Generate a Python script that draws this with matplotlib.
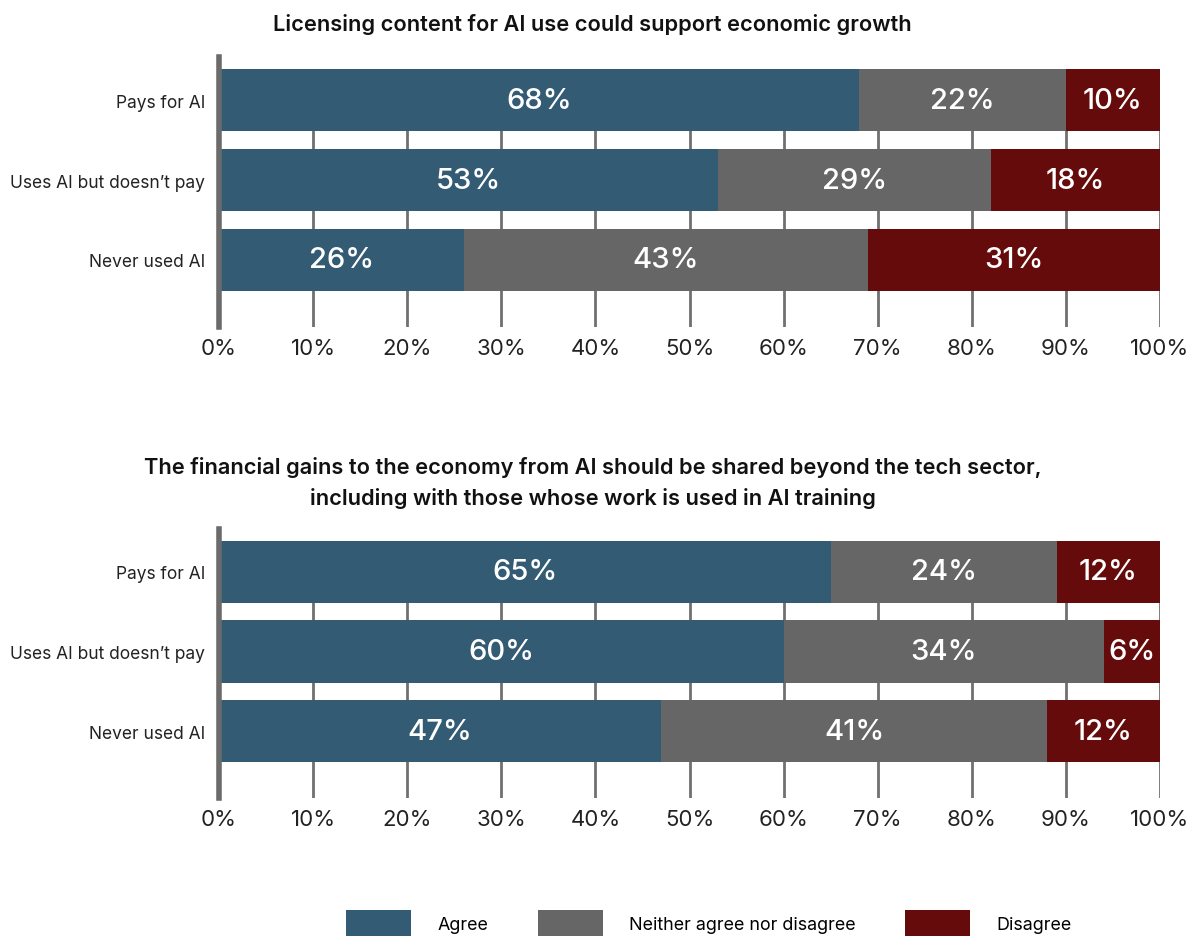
import numpy as np
import matplotlib.pyplot as plt
from matplotlib.patches import Patch

plt.rcParams['font.family'] = ['Inter', 'DejaVu Sans']

groups = ["Pays for AI", "Uses AI but doesn\u2019t pay", "Never used AI"]
responses = ["Agree", "Neither agree nor disagree", "Disagree"]
colors = ["#335b73", "#666666", "#660b0c"]

title_growth = "Licensing content for AI use could support economic growth"
growth_agree = [68, 53, 26]
growth_neither = [22, 29, 43]
growth_disagree = [10, 18, 31]

title_gains = ("The financial gains to the economy from AI should be shared beyond the tech sector,\n"
               "including with those whose work is used in AI training")
gains_agree = [65, 60, 47]
gains_neither = [24, 34, 41]
gains_disagree = [12, 6, 12]

xticks = list(range(0, 101, 10))


def stacked_panel(ax, series, title, title_y):
    y = np.arange(len(groups))
    bar_h = 0.78
    left = np.zeros(len(groups))
    for vals, col in zip(series, colors):
        vals = np.array(vals, dtype=float)
        ax.barh(y, vals, left=left, height=bar_h, color=col, zorder=3)
        for yi, l, v in zip(y, left, vals):
            right = min(l + v, 100)
            ax.text((l + right) / 2, yi, f"{int(v)}%", ha="center", va="center",
                    color="white", fontsize=21, fontweight="medium", zorder=4)
        left += vals

    ax.set_xlim(0, 100)
    ax.set_ylim(len(groups) - 1 + 0.84, -0.54)

    # gridlines sit behind the bars and start at the first bar's top edge
    ax.vlines(xticks[1:], -bar_h / 2, len(groups) - 1 + 0.84,
              color="#707070", linewidth=2, zorder=1)

    for side in ["top", "right", "bottom"]:
        ax.spines[side].set_visible(False)
    ax.spines["left"].set_color("#6b6b6b")
    ax.spines["left"].set_linewidth(4)
    ax.spines["left"].set_zorder(5)

    ax.set_yticks(y)
    ax.set_yticklabels(groups, fontsize=12.5, color="#222222")
    ax.set_xticks(xticks)
    ax.set_xticklabels([f"{t}%" for t in xticks], fontsize=16, color="#222222")
    ax.tick_params(length=0)
    ax.tick_params(axis="y", pad=10)
    ax.tick_params(axis="x", pad=8)
    ax.text(0.397, title_y, title, transform=ax.transAxes, ha="center", va="center",
            fontsize=15.7, fontweight="semibold", color="#111111", linespacing=1.55)


fig = plt.figure(figsize=(11.98, 9.37), dpi=100)
ax1 = fig.add_axes([0.1828, 0.6499, 0.7855, 0.2882])
ax2 = fig.add_axes([0.1828, 0.1473, 0.7855, 0.2871])

stacked_panel(ax1, [growth_agree, growth_neither, growth_disagree], title_growth, 1.125)
stacked_panel(ax2, [gains_agree, gains_neither, gains_disagree], title_gains, 1.175)

handles = [Patch(facecolor=c, edgecolor="none") for c in colors]
fig.legend(handles, responses, loc="lower left", bbox_to_anchor=(346 / 1198, -0.002),
           ncol=3, frameon=False, fontsize=12.9, handlelength=3.65, handleheight=2.05,
           handletextpad=1.45, columnspacing=2.75, borderpad=0, borderaxespad=0)

fig.savefig("out.png", dpi=100)
